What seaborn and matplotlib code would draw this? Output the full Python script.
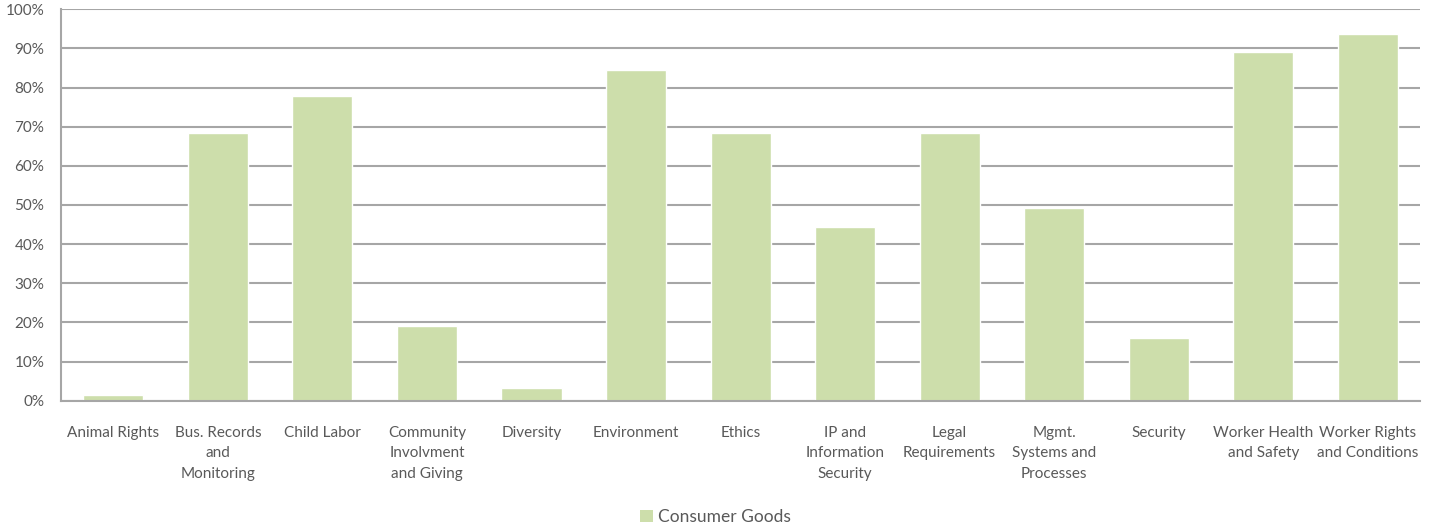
import matplotlib
matplotlib.use("Agg")
import matplotlib.pyplot as plt
from matplotlib.ticker import PercentFormatter
from matplotlib.patches import Patch
import seaborn as sns
import pandas as pd

categories = [
    "Animal Rights", "Bus. Records\nand\nMonitoring", "Child Labor",
    "Community\nInvolvment\nand Giving", "Diversity", "Environment", "Ethics",
    "IP and\nInformation\nSecurity", "Legal\nRequirements",
    "Mgmt.\nSystems and\nProcesses", "Security",
    "Worker Health\nand Safety", "Worker Rights\nand Conditions",
]
values = [1.5, 68.3, 77.8, 19.0, 3.2, 84.4, 68.3, 44.3, 68.3, 49.2, 15.9, 89.0, 93.8]
series_name = "Consumer Goods"
y_ticks = list(range(0, 101, 10))

bar_color = "#cddeab"
text_color = "#595959"
grid_color = "#a6a6a6"

sns.set_theme(style="white")
plt.rcParams["font.family"] = ["Lato", "DejaVu Sans"]

df = pd.DataFrame({"category": categories, "value": values, "series": series_name})

fig = plt.figure(figsize=(14.4, 5.31), dpi=100)
ax = fig.add_axes([0.0424, 0.2454, 0.9438, 0.7371])

sns.barplot(data=df, x="category", y="value", hue="series", palette=[bar_color],
            width=0.575, ax=ax, legend=False, saturation=1)

ax.set_ylim(0, 100)
ax.set_xlim(-0.5, len(categories) - 0.5)
ax.set_yticks(y_ticks)
ax.yaxis.set_major_formatter(PercentFormatter(decimals=0))
ax.set_xlabel("")
ax.set_ylabel("")
ax.grid(axis="y", color=grid_color, linewidth=1.5)
ax.set_axisbelow(True)
for side in ["top", "right"]:
    ax.spines[side].set_visible(False)
for side in ["left", "bottom"]:
    ax.spines[side].set_color(grid_color)
    ax.spines[side].set_linewidth(1.5)
ax.tick_params(axis="both", length=0, colors=text_color, labelsize=11)
ax.tick_params(axis="x", pad=18)
ax.tick_params(axis="y", pad=12)
for lbl in ax.get_xticklabels():
    lbl.set_linespacing(1.6)

handle = Patch(facecolor=bar_color, edgecolor="none")
fig.legend([handle], [series_name], loc="center", bbox_to_anchor=(0.497, 0.026),
           frameon=False, fontsize=12.5, labelcolor=text_color,
           handlelength=0.75, handleheight=0.75, handletextpad=0.3)

fig.savefig("out.png", dpi=100)
